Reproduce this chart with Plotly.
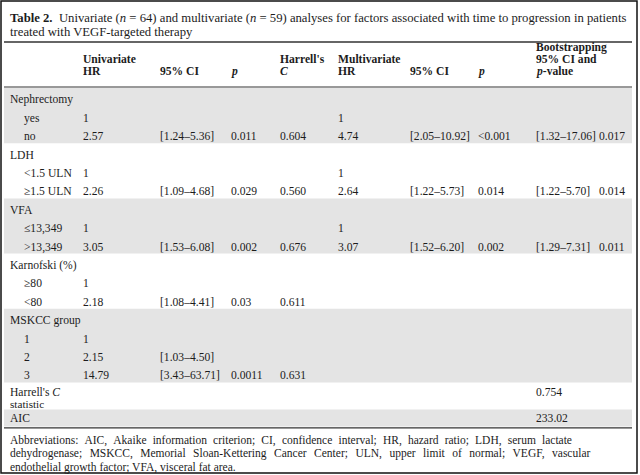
import plotly.graph_objects as go

# ---- table content ----
title_lines = [
    "<b>Table 2.</b>  Univariate (<i>n</i> = 64) and multivariate (<i>n</i> = 59) analyses for factors associated with time to progression in patients",
    "treated with VEGF-targeted therapy",
]

header_cells = [
    # (column index, lines)
    (0, ["<b>Univariate</b>", "<b>HR</b>"]),
    (1, ["", "<b>95% CI</b>"]),
    (2, ["", "<b><i>p</i></b>"]),
    (3, ["<b>Harrell's</b>", "<b><i>C</i></b>"]),
    (4, ["<b>Multivariate</b>", "<b>HR</b>"]),
    (5, ["", "<b>95% CI</b>"]),
    (6, ["", "<b><i>p</i></b>"]),
]
boot_header = ["<b>Bootstrapping</b>", "<b>95% CI and</b>", "<b><i>p</i>-value</b>"]

row_labels = ["Nephrectomy", "yes", "no",
              "LDH", "&lt;1.5 ULN", "≥1.5 ULN",
              "VFA", "≤13,349", "&gt;13,349",
              "Karnofski (%)", "≥80", "&lt;80",
              "MSKCC group", "1", "2", "3"]
row_indent = [0, 1, 1, 0, 1, 1, 0, 1, 1, 0, 1, 1, 0, 1, 1, 1]

uni_hr = ["", "1", "2.57", "", "1", "2.26", "", "1", "3.05", "", "1", "2.18", "", "1", "2.15", "14.79"]
uni_ci = ["", "", "[1.24–5.36]", "", "", "[1.09–4.68]", "", "", "[1.53–6.08]",
          "", "", "[1.08–4.41]", "", "", "[1.03–4.50]", "[3.43–63.71]"]
uni_p = ["", "", "0.011", "", "", "0.029", "", "", "0.002", "", "", "0.03", "", "", "", "0.0011"]
harrell_c = ["", "", "0.604", "", "", "0.560", "", "", "0.676", "", "", "0.611", "", "", "", "0.631"]
multi_hr = ["", "1", "4.74", "", "1", "2.64", "", "1", "3.07", "", "", "", "", "", "", ""]
multi_ci = ["", "", "[2.05–10.92]", "", "", "[1.22–5.73]", "", "", "[1.52–6.20]",
            "", "", "", "", "", "", ""]
multi_p = ["", "", "&lt;0.001", "", "", "0.014", "", "", "0.002", "", "", "", "", "", "", ""]
boot_ci = ["", "", "[1.32–17.06]", "", "", "[1.22–5.70]", "", "", "[1.29–7.31]",
           "", "", "", "", "", "", ""]
boot_p = ["", "", "0.017", "", "", "0.014", "", "", "0.011", "", "", "", "", "", "", ""]

group_sizes = [3, 3, 3, 3, 4]
group_shaded = [True, False, True, False, True]

harrell_label = ["Harrell's <i>C</i>", "statistic"]
harrell_value = "0.754"
aic_label = "AIC"
aic_value = "233.02"

footnote_lines = [
    "Abbreviations: AIC, Akaike information criterion; CI, confidence interval; HR, hazard ratio; LDH, serum lactate",
    "dehydrogenase; MSKCC, Memorial Sloan-Kettering Cancer Center; ULN, upper limit of normal; VEGF, vascular",
    "endothelial growth factor; VFA, visceral fat area.",
]
# extra spacing per word gap, to imitate the justified print layout
footnote_pad = ["\u2009\u200a", "\u2009\u2009", ""]

# ---- layout (pixel space) ----
W, H = 640, 475
FONT = "Liberation Serif"
INK = "#1c1c1c"
GRAY = "#e4e4e4"
FS = 11.6
LEFT, RIGHT = 4, 632
label_x = [8, 22]
col_x = [81, 158, 229, 278, 336, 408, 476]
boot_x = [534, 597]
row_top, row_h = 88, 18.4

fig = go.Figure()
annotations = []
shapes = []


def text(x, y, s, size=FS):
    annotations.append(dict(x=x, y=y, xref="x", yref="y", text=s, showarrow=False,
                            xanchor="left", yanchor="middle",
                            font=dict(family=FONT, size=size, color=INK)))


# title
for i, line in enumerate(title_lines):
    text(8, 18 + i * 13.5, line, size=12.7)
shapes.append(dict(type="line", x0=LEFT, x1=RIGHT, y0=42, y1=42, line=dict(color="#333", width=1.5)))

# header
for ci, lines in header_cells:
    for j, s in enumerate(lines):
        if s:
            text(col_x[ci], 59 + j * 12, s)
for j, s in enumerate(boot_header):
    text(boot_x[0], 47 + j * 12, s)
shapes.append(dict(type="line", x0=LEFT, x1=RIGHT, y0=87, y1=87, line=dict(color="#333", width=1)))

# shaded bands for groups
start = 0
for size, shaded in zip(group_sizes, group_shaded):
    if shaded:
        shapes.append(dict(type="rect", x0=LEFT, x1=RIGHT,
                           y0=row_top + start * row_h, y1=row_top + (start + size) * row_h,
                           fillcolor=GRAY, line=dict(width=0), layer="below"))
    start += size

# body rows
for i, lab in enumerate(row_labels):
    y = row_top + (i + 0.65) * row_h
    text(label_x[row_indent[i]], y, lab)
    for x, col in zip(col_x, [uni_hr, uni_ci, uni_p, harrell_c, multi_hr, multi_ci, multi_p]):
        if col[i]:
            text(x, y, col[i])
    if boot_ci[i]:
        text(boot_x[0], y, boot_ci[i])
        text(boot_x[1], y, boot_p[i])

# Harrell's C statistic and AIC rows
h_top = row_top + len(row_labels) * row_h
text(8, h_top + 10.5, harrell_label[0])
text(8, h_top + 22, harrell_label[1], size=11.2)
text(boot_x[0], h_top + 10.5, harrell_value)
aic_top = h_top + 27
shapes.append(dict(type="rect", x0=LEFT, x1=RIGHT, y0=aic_top, y1=aic_top + 17,
                   fillcolor=GRAY, line=dict(width=0), layer="below"))
text(8, aic_top + 9, aic_label)
text(boot_x[0], aic_top + 9, aic_value)
shapes.append(dict(type="line", x0=LEFT, x1=RIGHT, y0=aic_top + 18.5, y1=aic_top + 18.5,
                   line=dict(color="#333", width=1.2)))

# footnote
for i, line in enumerate(footnote_lines):
    line = line.replace(" ", " " + footnote_pad[i])
    text(8, aic_top + 31 + i * 13.5, line, size=11.5)

# outer frame
shapes.append(dict(type="rect", x0=1, x1=W - 3, y0=1, y1=H - 2,
                   line=dict(color="#111", width=1.5)))

fig.update_layout(
    width=W, height=H,
    margin=dict(l=0, r=0, t=0, b=0),
    paper_bgcolor="white", plot_bgcolor="white",
    xaxis=dict(range=[0, W], visible=False, fixedrange=True),
    yaxis=dict(range=[H, 0], visible=False, fixedrange=True),
    annotations=annotations,
    shapes=shapes,
    showlegend=False,
)

fig.write_html("out.html", config={"displayModeBar": False},
               post_script="document.body.style.margin = '0px';")
